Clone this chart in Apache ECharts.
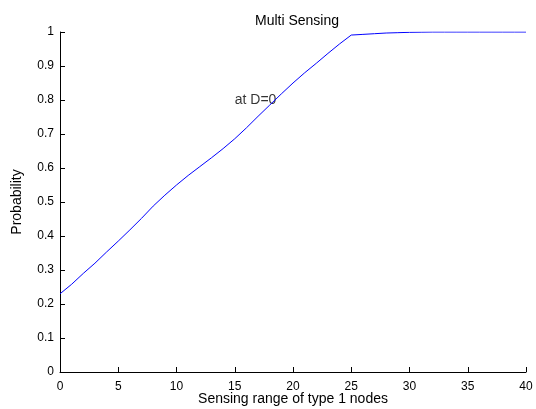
<!DOCTYPE html>
<html>
<head>
<meta charset="utf-8">
<script src="https://cdn.jsdelivr.net/npm/echarts@6/dist/echarts.min.js"></script>
<style>html,body{margin:0;padding:0;background:#fff}#c{width:536px;height:409px}</style>
</head>
<body>
<div id="c"></div>
<script>
var xValues = [0,1,2,3,4,5,6,7,8,9,10,11,12,13,14,15,16,17,18,19,20,21,22,23,24,25,26,27,28,29,30,31,32,33,34,35,36,37,38,39,40];
var probability = [0.23,0.258,0.29,0.32,0.353,0.385,0.418,0.452,0.488,0.52,0.55,0.578,0.604,0.63,0.657,0.686,0.718,0.752,0.785,0.818,0.85,0.88,0.908,0.937,0.965,0.991,0.993,0.995,0.997,0.998,0.999,0.9995,1,1,1,1,1,1,1,1,1];
var annotation = {x: 15, y: 0.8, text: 'at D=0'};
var titleText = 'Multi Sensing';
var xName = 'Sensing range of type 1 nodes';
var yName = 'Probability';

var font = 'Liberation Sans, Arial, sans-serif';
var chart = echarts.init(document.getElementById('c'), null, {renderer: 'canvas'});
var lineData = xValues.map(function (x, i) { return [x, probability[i]]; });
chart.setOption({
  animation: false,
  backgroundColor: '#ffffff',
  title: {
    text: titleText, left: 292, top: 9, textAlign: 'center',
    textStyle: {fontFamily: font, fontSize: 14, fontWeight: 'normal', color: '#000'}
  },
  grid: {left: 60, right: 10, top: 32, bottom: 37, containLabel: false, outerBoundsMode: 'none'},
  xAxis: {
    type: 'value', min: 0, max: 40, interval: 5,
    name: xName, nameLocation: 'middle', nameGap: 20, nameMoveOverlap: false,
    nameTextStyle: {fontFamily: font, fontSize: 14, color: '#000'},
    axisLine: {show: true, lineStyle: {color: '#000', width: 1}},
    axisTick: {show: true, inside: true, length: 5, lineStyle: {color: '#000'}},
    axisLabel: {fontFamily: font, fontSize: 12, color: '#000', margin: 9},
    splitLine: {show: false}
  },
  yAxis: {
    type: 'value', min: 0, max: 1, interval: 0.1,
    name: yName, nameLocation: 'middle', nameGap: 36, nameRotate: 90, nameMoveOverlap: false,
    nameTextStyle: {fontFamily: font, fontSize: 14, color: '#000'},
    axisLine: {show: true, lineStyle: {color: '#000', width: 1}},
    axisTick: {show: true, inside: true, length: 5, lineStyle: {color: '#000'}},
    axisLabel: {fontFamily: font, fontSize: 12, color: '#000', margin: 6,
      formatter: function (v) { return String(+v.toFixed(1)); }},
    splitLine: {show: false}
  },
  series: [
    {
      type: 'line', data: lineData, showSymbol: false, symbol: 'none',
      lineStyle: {color: '#0000ff', width: 1}, silent: true
    },
    {
      type: 'scatter', data: [[annotation.x, annotation.y]], symbolSize: 0,
      label: {show: true, position: 'right', distance: 0, formatter: annotation.text,
        fontFamily: font, fontSize: 14, color: '#000'},
      silent: true
    }
  ]
});
</script>
</body>
</html>
